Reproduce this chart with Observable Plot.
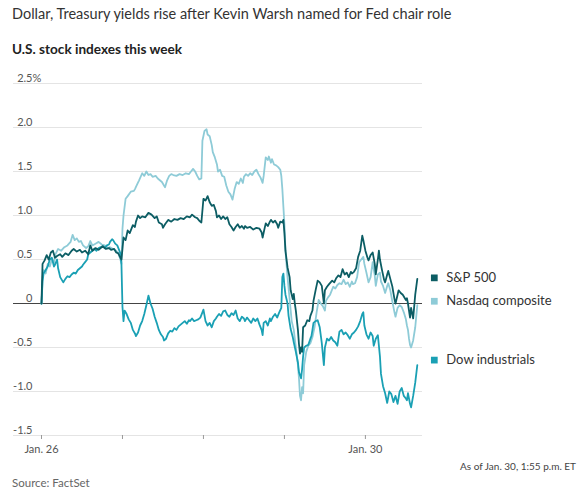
<!DOCTYPE html>
<html>
<head>
<meta charset="utf-8">
<script src="https://cdn.jsdelivr.net/npm/d3@7"></script>
<script src="https://cdn.jsdelivr.net/npm/@observablehq/plot@0.6"></script>
<style>
  body { margin: 0; background: #fff; }
  #wrap { position: relative; width: 582px; height: 496px; font-family: Lato, "Noto Sans", sans-serif; }
  #title { position: absolute; left: 12px; top: 5px; font-size: 14.5px; line-height: 18px; color: #333; white-space: nowrap; }
  #subtitle { position: absolute; left: 12px; top: 40px; font-size: 13.6px; line-height: 18px; font-weight: 700; color: #222; white-space: nowrap; }
  #chart { position: absolute; left: 0; top: 65px; }
  #asof { position: absolute; right: 6px; top: 460px; font-size: 10px; line-height: 13px; color: #444; white-space: nowrap; }
  #source { position: absolute; left: 12px; top: 476px; font-size: 11.5px; line-height: 14px; color: #666; white-space: nowrap; }
</style>
</head>
<body>
<div id="wrap">
  <div id="title">Dollar, Treasury yields rise after Kevin Warsh named for Fed chair role</div>
  <div id="subtitle">U.S. stock indexes this week</div>
  <div id="chart"></div>
  <div id="asof">As of Jan. 30, 1:55 p.m. ET</div>
  <div id="source">Source: FactSet</div>
</div>
<script>
// Time axis: 5-minute bars since Monday Jan. 26 open (78 bars per trading day)
const dayTicks = [0, 78, 156, 234, 312];
const dayLabels = ["Jan. 26", "", "", "", "Jan. 30"];
const yTicks = [-1.5, -1.0, -0.5, 0, 0.5, 1.0, 1.5, 2.0, 2.5];

const seriesNames = ["S&P 500", "Nasdaq composite", "Dow industrials"];
const seriesColors = ["#0c5d64", "#8ecbd7", "#1aa0b4"];

// S&P 500 (% change)
const spT = [0,1,3,5,7,9,11,13,15,18,20,23,26,29,31,34,37,39,42,45,47,49,52,55,59,62,65,67,70,72,74,76,77,
  78,79,81,83,85,88,90,91,93,95,97,100,103,106,109,111,113,116,117,119,122,125,128,131,134,137,140,143,145,148,150,152,154,
  156,158,160,162,164,166,168,169,171,173,175,177,179,181,183,185,187,189,191,193,195,196,198,201,204,207,210,212,213,215,216,218,220,221,223,225,227,228,230,232,233,
  234,235,237,239,240,242,243,244,245,247,248,249,250,251,252,254,256,258,259,261,262,264,266,268,270,272,273,275,277,280,282,284,286,288,290,292,294,296,298,299,301,303,305,307,309,310,
  312,314,315,317,319,321,322,324,325,326,328,330,331,333,334,336,338,340,341,343,344,346,348,351,352,353,355,356,358,360,362];
const spV = [0,0.45,0.49,0.55,0.5,0.58,0.6,0.52,0.54,0.56,0.53,0.57,0.55,0.6,0.62,0.59,0.61,0.58,0.6,0.56,0.66,0.6,0.63,0.61,0.65,0.62,0.63,0.61,0.62,0.58,0.57,0.52,0.5,
  0.62,0.75,0.72,0.83,0.8,0.89,0.87,0.93,1.0,0.97,0.99,0.98,1.03,1.01,0.97,0.99,0.92,0.9,0.86,0.9,0.95,0.93,0.96,0.95,0.97,0.96,0.99,0.98,1.01,0.98,0.97,0.94,0.92,
  1.19,1.17,1.22,1.15,1.11,1.12,1.05,0.98,1.0,0.96,0.99,0.96,0.98,0.9,0.87,0.83,0.87,0.9,0.86,0.88,0.85,0.88,0.86,0.87,0.84,0.86,0.85,0.81,0.75,0.86,0.91,0.88,0.93,0.95,0.92,0.94,0.9,0.86,0.93,0.92,0.95,
  0.8,0.6,0.41,0.3,0.15,0.05,0.11,0.0,-0.08,-0.3,-0.46,-0.57,-0.5,-0.55,-0.27,-0.25,-0.19,-0.2,-0.14,-0.08,0.03,0.15,0.26,0.24,0.2,0.0,0.15,0.19,0.22,0.26,0.24,0.29,0.32,0.3,0.39,0.33,0.35,0.3,0.36,0.34,0.36,0.4,0.53,0.6,0.77,0.72,
  0.6,0.52,0.49,0.55,0.58,0.45,0.33,0.5,0.6,0.5,0.38,0.27,0.24,0.33,0.37,0.28,0.19,0.05,0.0,0.1,0.15,0.12,0.1,0.04,0.06,0.0,-0.16,-0.05,-0.17,0.1,0.28];

// Nasdaq composite (% change)
const ndT = [0,1,2,4,6,8,10,12,13,16,19,22,25,28,30,32,34,36,38,40,43,45,47,49,52,55,58,61,64,66,69,72,74,76,77,
  78,79,81,83,86,89,90,92,94,97,99,101,103,105,107,110,112,114,116,117,119,121,123,125,127,130,133,136,139,142,144,146,148,150,152,154,
  155,157,159,160,162,164,165,167,169,170,172,174,176,178,180,182,184,186,188,190,192,194,195,197,199,201,203,205,207,209,211,213,214,216,218,219,221,222,224,226,228,230,231,232,233,
  234,235,237,239,241,243,245,247,248,249,250,251,252,253,255,257,259,261,263,265,267,269,271,273,274,276,278,281,283,285,287,289,291,293,295,297,299,300,302,304,306,308,310,311,
  313,315,317,319,321,322,324,326,327,329,331,333,334,336,338,340,341,343,345,347,349,351,352,353,354,355,356,358,360,362];
const ndV = [0,0.3,0.38,0.34,0.45,0.42,0.5,0.46,0.55,0.62,0.6,0.64,0.66,0.7,0.78,0.72,0.74,0.7,0.71,0.66,0.63,0.65,0.71,0.66,0.68,0.7,0.67,0.66,0.63,0.64,0.62,0.6,0.57,0.5,0.45,
  0.85,1.0,1.19,1.22,1.27,1.28,1.3,1.35,1.4,1.48,1.45,1.5,1.46,1.47,1.44,1.45,1.42,1.4,1.38,1.36,1.32,1.4,1.45,1.47,1.46,1.45,1.47,1.46,1.48,1.47,1.5,1.53,1.5,1.45,1.41,1.42,
  1.85,1.96,1.98,1.92,1.9,1.8,1.72,1.66,1.58,1.5,1.52,1.45,1.44,1.34,1.27,1.24,1.18,1.3,1.38,1.36,1.42,1.37,1.44,1.47,1.45,1.48,1.46,1.5,1.52,1.47,1.43,1.37,1.45,1.66,1.63,1.67,1.6,1.64,1.58,1.57,1.55,1.52,1.45,1.3,1.1,
  0.9,0.6,0.3,0.05,-0.2,-0.3,-0.5,-0.7,-0.85,-1.05,-1.1,-0.95,-1.02,-0.7,-0.55,-0.48,-0.45,-0.38,-0.27,-0.1,0.04,0.0,-0.03,-0.08,0.03,0.07,0.1,0.19,0.17,0.21,0.23,0.22,0.27,0.22,0.24,0.19,0.25,0.22,0.23,0.3,0.47,0.5,0.53,0.45,
  0.35,0.24,0.3,0.47,0.32,0.2,0.33,0.35,0.25,0.2,0.12,0.2,0.23,0.15,0.02,-0.1,-0.15,-0.05,-0.02,-0.04,-0.1,-0.18,-0.25,-0.3,-0.4,-0.47,-0.5,-0.42,-0.27,-0.02];

// Dow industrials (% change)
const dwT = [0,1,2,4,6,8,10,12,13,15,16,18,20,21,23,25,27,29,31,33,35,37,39,40,42,44,45,47,49,51,53,55,57,59,61,63,65,66,68,69,71,73,75,76,77,
  78,79,80,82,84,86,88,90,91,93,95,97,99,101,103,105,107,109,111,113,115,117,118,120,122,124,126,128,130,132,134,136,138,140,142,143,145,147,149,151,153,155,
  156,158,160,162,164,166,168,169,171,173,175,177,179,181,183,185,187,189,191,193,195,196,198,200,202,204,206,208,210,212,213,214,216,218,220,221,223,225,227,229,231,232,233,
  234,235,237,238,240,242,243,245,247,248,250,251,252,253,255,257,259,260,261,262,264,266,268,270,272,273,275,277,279,281,283,285,287,289,291,293,295,297,299,301,303,305,307,309,310,311,
  313,315,317,319,320,322,324,326,327,329,331,333,335,337,339,341,343,345,347,349,351,352,353,355,356,358,360,362];
const dwV = [0,0.25,0.34,0.38,0.42,0.5,0.52,0.42,0.44,0.5,0.4,0.3,0.26,0.24,0.28,0.31,0.3,0.33,0.35,0.34,0.38,0.4,0.42,0.44,0.47,0.5,0.56,0.58,0.6,0.62,0.6,0.63,0.64,0.65,0.63,0.66,0.67,0.7,0.73,0.72,0.68,0.66,0.6,0.57,0.45,
  -0.04,-0.2,-0.08,-0.12,-0.18,-0.22,-0.3,-0.34,-0.37,-0.33,-0.25,-0.2,-0.12,-0.02,0.09,0.0,-0.06,-0.15,-0.22,-0.3,-0.35,-0.38,-0.42,-0.4,-0.34,-0.31,-0.32,-0.28,-0.3,-0.26,-0.24,-0.22,-0.2,-0.23,-0.19,-0.2,-0.17,-0.2,-0.19,-0.18,-0.16,-0.1,
  -0.07,-0.2,-0.25,-0.22,-0.27,-0.2,-0.17,-0.15,-0.12,-0.14,-0.09,-0.08,-0.13,-0.15,-0.11,-0.13,-0.08,-0.17,-0.2,-0.15,-0.17,-0.2,-0.16,-0.19,-0.22,-0.17,-0.2,-0.17,-0.24,-0.3,-0.36,-0.22,-0.2,-0.25,-0.17,-0.2,-0.15,-0.12,-0.16,-0.1,-0.05,0.3,0.34,
  0.2,0.1,0.0,-0.14,-0.29,-0.38,-0.44,-0.55,-0.67,-0.78,-0.85,-0.75,-0.6,-0.5,-0.48,-0.47,-0.4,-0.37,-0.3,-0.22,-0.2,-0.19,-0.27,-0.45,-0.7,-0.5,-0.4,-0.42,-0.38,-0.42,-0.44,-0.48,-0.32,-0.3,-0.35,-0.33,-0.36,-0.4,-0.35,-0.33,-0.3,-0.26,-0.2,-0.12,-0.1,-0.25,
  -0.35,-0.4,-0.33,-0.37,-0.48,-0.4,-0.36,-0.6,-0.8,-0.94,-1.02,-1.13,-1.0,-1.03,-1.12,-1.05,-1.14,-1.0,-0.96,-1.05,-1.08,-1.1,-1.02,-1.14,-1.18,-1.05,-0.9,-0.7];

const series = [
  {name: seriesNames[0], color: seriesColors[0], t: spT, v: spV, dy: -1},
  {name: seriesNames[1], color: seriesColors[1], t: ndT, v: ndV, dy: -4},
  {name: seriesNames[2], color: seriesColors[2], t: dwT, v: dwV, dy: -5}
];
const drawOrder = [1, 2, 0];

const fmtY = d => d === 0 ? "0" : d.toFixed(1);

const marks = [
  Plot.ruleY(yTicks.filter(d => d !== 0), {stroke: "#e4e4e4", strokeWidth: 1, insetLeft: -28}),
  Plot.axisY(yTicks, {tickSize: 0, tickPadding: 9, dy: -5, tickFormat: fmtY, fill: "#555", fontSize: 11}),
  Plot.text(["%"], {y: 2.5, frameAnchor: "left", dx: -9, dy: -5, textAnchor: "start", fill: "#555", fontSize: 11}),
  Plot.axisX(dayTicks, {tickSize: 4, tickPadding: 6, stroke: "#999", fill: "#555", fontSize: 11,
    tickFormat: d => dayLabels[dayTicks.indexOf(d)]}),
  Plot.ruleY([0], {stroke: "#444", strokeWidth: 1, insetLeft: -28})
];
for (const i of drawOrder) {
  const s = series[i];
  marks.push(Plot.line(s.t, {x: s.t, y: s.v, stroke: s.color, strokeWidth: 1.8, strokeLinejoin: "round"}));
}
for (const s of series) {
  const n = s.t.length - 1;
  marks.push(Plot.dot([0], {x: [s.t[n]], y: [s.v[n]], symbol: "square", r: 3.8, fill: s.color, stroke: null, dx: 17, dy: s.dy}));
  marks.push(Plot.text([0], {x: [s.t[n]], y: [s.v[n]], text: [s.name], textAnchor: "start", dx: 29, dy: s.dy, fill: "#333", fontSize: 13}));
}

const chart = Plot.plot({
  width: 582,
  height: 395,
  marginTop: 18,
  marginBottom: 25,
  marginLeft: 41,
  marginRight: 160,
  style: {fontFamily: "Lato, 'Noto Sans', sans-serif", background: "transparent", overflow: "visible"},
  x: {domain: [0, 367]},
  y: {domain: [-1.5, 2.5]},
  marks
});
document.getElementById("chart").appendChild(chart);
</script>
</body>
</html>
